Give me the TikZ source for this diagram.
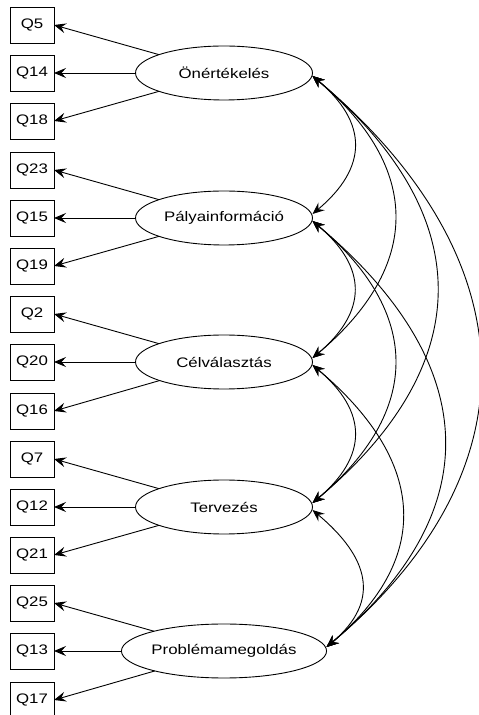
\documentclass[tikz,border=0pt]{standalone}
\usepackage{fontspec}
\setmainfont{Liberation Sans}[FakeStretch=1.22]
\usetikzlibrary{arrows.meta,shapes.geometric}
\begin{document}
\begin{tikzpicture}[x=1pt,y=1pt,
  font=\fontsize{13.8}{16}\selectfont,
  every node/.style={line width=0.9pt},
  item/.style={draw, rectangle, minimum width=44pt, minimum height=36pt, inner sep=0pt, outer sep=0pt},
  factor/.style={draw, ellipse, minimum width=177pt, minimum height=54pt, inner sep=0pt, outer sep=0pt},
  tip/.style={Stealth[length=12pt,width=10pt,inset=4.5pt]},
  load/.style={line width=0.9pt, -{Stealth[length=12pt,width=10pt,inset=4.5pt]}},
  cov/.style={line width=0.9pt, {Stealth[length=12pt,width=10pt,inset=4.5pt]}-{Stealth[length=12pt,width=10pt,inset=4.5pt]}},
  bow/.style={out=-40, in=40, looseness=#1}]
\useasboundingbox (0,0) rectangle (479,715);

% observed indicators
\node[item] (q5)  at (32,690) {Q5};
\node[item] (q14) at (32,642) {Q14};
\node[item] (q18) at (32,594) {Q18};
\node[item] (q23) at (32,545) {Q23};
\node[item] (q15) at (32,497) {Q15};
\node[item] (q19) at (32,449) {Q19};
\node[item] (q2)  at (32,401) {Q2};
\node[item] (q20) at (32,353) {Q20};
\node[item] (q16) at (32,304) {Q16};
\node[item] (q7)  at (32,256) {Q7};
\node[item] (q12) at (32,208) {Q12};
\node[item] (q21) at (32,160) {Q21};
\node[item] (q25) at (32,112) {Q25};
\node[item] (q13) at (32,64)  {Q13};
\node[item] (q17) at (32,15)  {Q17};

% latent factors
\node[factor] (f1) at (224,642) {Önértékelés};
\node[factor] (f2) at (224,497) {Pályainformáció};
\node[factor] (f3) at (224,353) {Célválasztás};
\node[factor] (f4) at (224,208) {Tervezés};
\node[factor] (f5) at (224,64)  {Problémamegoldás};

% loadings
\foreach \f/\a/\b/\c in {f1/q5/q14/q18, f2/q23/q15/q19, f3/q2/q20/q16, f4/q7/q12/q21, f5/q25/q13/q17}{
  \draw[load] (\f) -- (\a.east);
  \draw[load] (\f) -- (\b.east);
  \draw[load] (\f) -- (\c.east);
}

% covariances between factors
\foreach \u/\l/\k in {f1/f2/1.35, f2/f3/1.35, f3/f4/1.35, f4/f5/1.35,
                      f1/f3/1.3, f2/f4/1.3, f3/f5/1.3,
                      f1/f4/1.3, f2/f5/1.3,
                      f1/f5/1.25}{
  \draw[cov] ([yshift=-3pt]\u.east) to[bow=\k] ([yshift=4pt]\l.east);
}
\end{tikzpicture}
\end{document}
